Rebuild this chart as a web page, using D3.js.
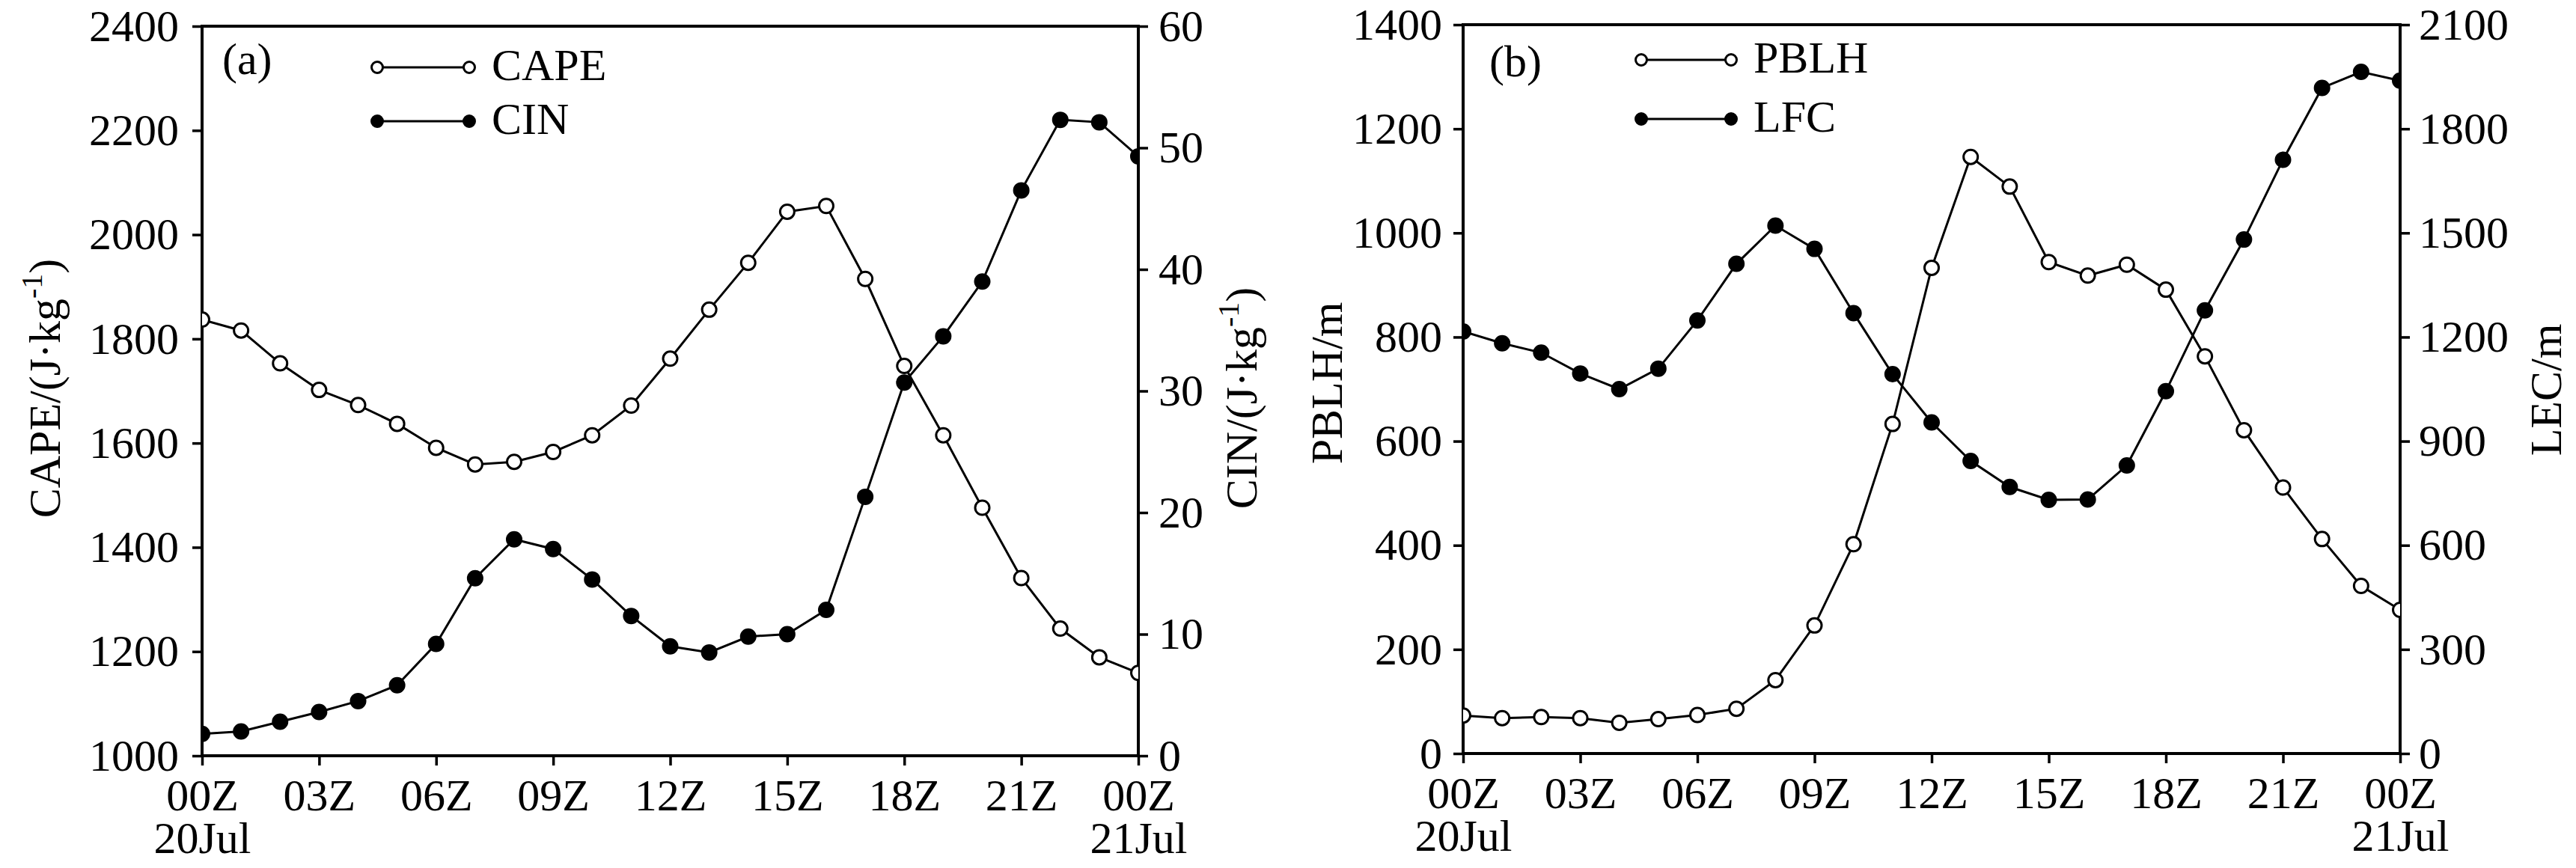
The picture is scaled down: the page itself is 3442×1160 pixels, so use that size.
<!DOCTYPE html>
<html>
<head>
<meta charset="utf-8">
<script src="https://cdn.jsdelivr.net/npm/d3@7"></script>
<style>
  body { margin: 0; background: #fff; }
  svg text { font-family: "Liberation Serif", "Times New Roman", serif; fill: #000; }
</style>
</head>
<body>
<div id="chart"></div>
<script>
// hours since 00Z 20Jul
const hours = [0,1,2,3,4,5,6,7,8,9,10,11,12,13,14,15,16,17,18,19,20,21,22,23,24];

const capeValues = [1837,1816,1753,1702,1673,1637,1591,1559,1564,1583,1615,1672,1762,1856,1946,2044,2055,1915,1748,1615,1476,1341,1244,1189,1159];
const cinValues = [1.8,2.0,2.8,3.6,4.5,5.8,9.2,14.6,17.8,17.0,14.5,11.5,9.0,8.5,9.8,10.0,12.0,21.3,30.7,34.5,39.0,46.5,52.3,52.1,49.3];
const pblhValues = [73,68,70,68,59,66,74,86,141,246,402,633,933,1146,1089,944,918,939,891,763,621,511,412,322,276];
const lfcValues = [1216,1182,1155,1095,1050,1109,1248,1411,1521,1454,1269,1093,954,843,768,731,732,830,1044,1277,1481,1711,1918,1964,1939];

const xTickValues = [0,3,6,9,12,15,18,21,24];
const xTickLabels = ['00Z','03Z','06Z','09Z','12Z','15Z','18Z','21Z','00Z'];
// second label row, only under the first and last tick
const dateLabels = ['20Jul','','','','','','','','21Jul'];

const capeTicks = [1000,1200,1400,1600,1800,2000,2200,2400];
const cinTicks = [0,10,20,30,40,50,60];
const pblhTicks = [0,200,400,600,800,1000,1200,1400];
const lfcTicks = [0,300,600,900,1200,1500,1800,2100];

const W = 3442, H = 1160;
const fontSize = 60;
const tickLen = 13;

const svg = d3.select('#chart').append('svg')
    .attr('width', W)
    .attr('height', H)
    .attr('viewBox', '0 0 ' + W + ' ' + H);

svg.append('rect').attr('width', W).attr('height', H).attr('fill', '#fff');

function drawPanel(p){
    const g = svg.append('g').attr('class', 'panel-' + p.id);

    const x = d3.scaleLinear().domain([0,24]).range([p.left, p.right]);
    const yL = d3.scaleLinear().domain(p.leftDomain).range([p.bottom, p.top]);
    const yR = d3.scaleLinear().domain(p.rightDomain).range([p.bottom, p.top]);

    // clip so the end markers are cut by the frame
    const clipId = 'clip-' + p.id;
    svg.append('clipPath').attr('id', clipId)
        .append('rect')
            .attr('x', p.left)
            .attr('y', p.top)
            .attr('width', p.right - p.left)
            .attr('height', p.bottom - p.top);

    //axes
    const xAxis = d3.axisBottom(x)
        .tickValues(xTickValues)
        .tickFormat(function(d,i){ return xTickLabels[i] })
        .tickSize(tickLen)
        .tickSizeOuter(0);
    const gx = g.append('g')
        .attr('transform', 'translate(0,' + p.bottom + ')')
        .call(xAxis);
    gx.selectAll('text')
        .attr('y', 73)
        .attr('dy', null)
        .each(function(d,i){
            if (dateLabels[i]) {
                d3.select(this).append('tspan')
                    .attr('x', 0)
                    .attr('dy', 57)
                    .text(dateLabels[i]);
            }
        });

    const gl = g.append('g')
        .attr('transform', 'translate(' + p.left + ',0)')
        .call(d3.axisLeft(yL).tickValues(p.leftTicks).tickFormat(d3.format('d')).tickSize(tickLen).tickPadding(p.leftPad).tickSizeOuter(0));

    const gr = g.append('g')
        .attr('transform', 'translate(' + p.right + ',0)')
        .call(d3.axisRight(yR).tickValues(p.rightTicks).tickFormat(d3.format('d')).tickSize(tickLen).tickPadding(p.rightPad).tickSizeOuter(0));

    [gx, gl, gr].forEach(function(a){
        a.select('.domain').remove();
        a.selectAll('line').attr('stroke', '#000').attr('stroke-width', 3.5);
        a.selectAll('text')
            .style('font-size', fontSize + 'px')
            .style('font-family', '"Liberation Serif", "Times New Roman", serif')
            .attr('fill', '#000');
    });

    // frame
    g.append('rect')
        .attr('x', p.left)
        .attr('y', p.top)
        .attr('width', p.right - p.left)
        .attr('height', p.bottom - p.top)
        .attr('fill', 'none')
        .attr('stroke', '#000')
        .attr('stroke-width', 4);

    // series
    const plot = g.append('g').attr('clip-path', 'url(#' + clipId + ')');
    p.series.forEach(function(s){
        const y = s.axis === 'left' ? yL : yR;
        const line = d3.line()
            .x(function(d,i){ return x(hours[i]) })
            .y(function(d){ return y(d) });
        plot.append('path')
            .datum(s.values)
            .attr('d', line)
            .attr('fill', 'none')
            .attr('stroke', '#000')
            .attr('stroke-width', 3);
        plot.selectAll('.pt-' + s.name)
            .data(s.values)
          .enter().append('circle')
            .attr('cx', function(d,i){ return x(hours[i]) })
            .attr('cy', function(d){ return y(d) })
            .attr('r', 9.5)
            .attr('fill', s.filled ? '#000' : '#fff')
            .attr('stroke', '#000')
            .attr('stroke-width', 3);
    });

    // legend
    p.series.forEach(function(s,i){
        const ly = p.legendY[i];
        const x1 = p.left + p.legendX[0], x2 = p.left + p.legendX[1];
        g.append('line')
            .attr('x1', x1).attr('x2', x2)
            .attr('y1', ly).attr('y2', ly)
            .attr('stroke', '#000')
            .attr('stroke-width', 3);
        [x1, x2].forEach(function(cx){
            g.append('circle')
                .attr('cx', cx)
                .attr('cy', ly)
                .attr('r', 7.5)
                .attr('fill', s.filled ? '#000' : '#fff')
                .attr('stroke', '#000')
                .attr('stroke-width', 3);
        });
        g.append('text')
            .attr('x', p.left + p.legendX[2])
            .attr('y', ly + 17)
            .style('font-size', fontSize + 'px')
            .text(s.name);
    });

    // panel letter
    g.append('text')
        .attr('x', p.left + p.tagX)
        .attr('y', p.tagY)
        .style('font-size', fontSize + 'px')
        .text(p.tag);

    // axis titles
    p.titles.forEach(function(t){
        const txt = g.append('text')
            .attr('transform', 'translate(' + t.x + ',' + t.y + ') rotate(-90)')
            .attr('text-anchor', 'middle')
            .style('font-size', fontSize + 'px');
        txt.append('tspan').text(t.main);
        if (t.sup) {
            txt.append('tspan').attr('dy', -24).style('font-size', '40px').text(t.sup);
            txt.append('tspan').attr('dy', 24).text(t.tail);
        }
    });
}

drawPanel({
    id: 'a', tag: '(a)', tagX: 27, tagY: 99,
    left: 270, right: 1521, top: 35, bottom: 1010,
    leftDomain: [1000,2400], rightDomain: [0,60],
    leftTicks: capeTicks, rightTicks: cinTicks,
    leftPad: 18, rightPad: 14,
    legendX: [234, 357, 387], legendY: [90, 162],
    series: [
        {name: 'CAPE', values: capeValues, axis: 'left', filled: false},
        {name: 'CIN', values: cinValues, axis: 'right', filled: true}
    ],
    titles: [
        {x: 80, y: 519, main: 'CAPE/(J\u00b7kg', sup: '-1', tail: ')'},
        {x: 1679, y: 532, main: 'CIN/(J\u00b7kg', sup: '-1', tail: ')'}
    ]
});

drawPanel({
    id: 'b', tag: '(b)', tagX: 35, tagY: 102,
    left: 1955, right: 3207, top: 33, bottom: 1007,
    leftDomain: [0,1400], rightDomain: [0,2100],
    leftTicks: pblhTicks, rightTicks: lfcTicks,
    leftPad: 15, rightPad: 12,
    legendX: [238, 358, 388], legendY: [80, 159],
    series: [
        {name: 'PBLH', values: pblhValues, axis: 'left', filled: false},
        {name: 'LFC', values: lfcValues, axis: 'right', filled: true}
    ],
    titles: [
        {x: 1793, y: 512, main: 'PBLH/m'},
        {x: 3422, y: 521, main: 'LEC/m'}
    ]
});
</script>
</body>
</html>
